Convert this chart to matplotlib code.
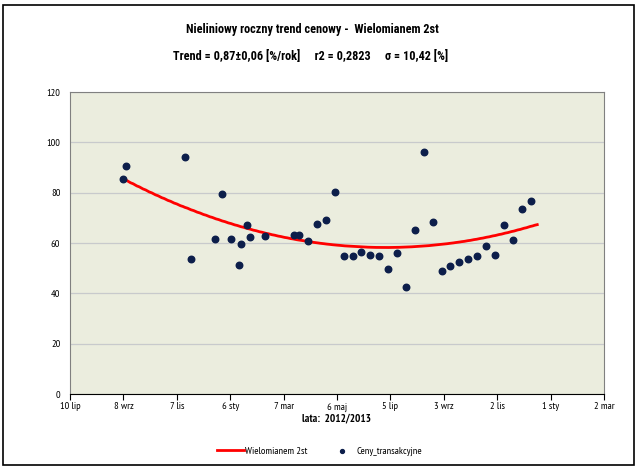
import numpy as np
import matplotlib
matplotlib.use("Agg")
import matplotlib.pyplot as plt
import datetime as dt

plt.rcParams['font.family'] = ['PT Sans Narrow', 'DejaVu Sans']

start = dt.date(2012, 7, 10)
# days after 10 Jul 2012 for each transaction
days = [59, 63, 129, 136, 163, 171, 181, 190, 192, 199, 202, 219, 252, 257,
        267, 278, 288, 298, 308, 318, 327, 337, 347, 357, 367, 378, 388, 398,
        408, 418, 427, 437, 447, 457, 467, 478, 488, 498, 508, 518]
prices = [85.4, 90.6, 94.2, 53.6, 61.7, 79.5, 61.7, 51.3, 59.6, 67.1, 62.4,
          62.8, 63.2, 63.2, 60.8, 67.5, 69.1, 80.3, 54.9, 54.9, 56.5, 55.3,
          54.9, 49.7, 56.1, 42.6, 65.2, 96.2, 68.3, 48.9, 50.9, 52.5, 53.7,
          54.9, 58.9, 55.3, 67.1, 61.2, 73.6, 76.8]
# trend line: (day, value)
trend_days = [59.5, 150, 250, 354, 450, 525]
trend_vals = [85.4, 71.6, 62.3, 57.7, 60.6, 67.7]

tick_labels = ['10 lip', '8 wrz', '7 lis', '6 sty', '7 mar', '6 maj',
               '5 lip', '3 wrz', '2 lis', '1 sty', '2 mar']

title1 = 'Nieliniowy roczny trend cenowy -  Wielomianem 2st'
title2 = 'Trend = 0,87±0,06 [%/rok]     r2 = 0,2823     σ = 10,42 [%]'

dates = [start + dt.timedelta(days=d) for d in days]
coef = np.polyfit(trend_days, trend_vals, 2)
td = np.linspace(trend_days[0], trend_days[-1], 200)
tv = np.polyval(coef, td)
tdates = [start + dt.timedelta(days=float(d)) for d in td]

fig = plt.figure(figsize=(6.41, 4.71), dpi=100)
fig.patches.append(plt.Rectangle((3/641, 1-465/471), 631/641, 460/471,
                                 transform=fig.transFigure, fill=False,
                                 edgecolor='black', linewidth=1.2))
ax = fig.add_axes([70/641, 1-394/471, 534/641, 302/471])
ax.set_facecolor('#EBEDDE')

ax.plot(tdates, tv, color='#FF0000', linewidth=2, label='Wielomianem 2st', zorder=3)
ax.scatter(dates, prices, s=22, color='#0C1E4A', zorder=4, label='Ceny_transakcyjne')

ax.set_ylim(0, 120)
ax.set_yticks(range(0, 121, 20))
ax.set_xlim(start, start + dt.timedelta(days=600))
ticks = [start + dt.timedelta(days=60 * i) for i in range(11)]
ax.set_xticks(ticks)
ax.set_xticklabels(tick_labels)
ax.grid(axis='y', color='#C8CACC', linewidth=0.9)
ax.set_axisbelow(True)
for s in ['top', 'right', 'left']:
    ax.spines[s].set_color('#808080')
ax.spines['bottom'].set_color('black')
ax.tick_params(axis='y', length=0, labelsize=7.5, pad=7)
ax.tick_params(axis='x', length=4, direction='out', labelsize=7.5, pad=2)

ax.set_xlabel('lata:  2012/2013', fontsize=8, fontweight='bold', labelpad=1.5)

tfam = ['Roboto Condensed', 'DejaVu Sans']
fig.text(312/641, 1-30/471, title1, ha='center', va='center', fontsize=8.8,
         fontweight='bold', family=tfam)
fig.text(311/641, 1-57/471, title2, ha='center', va='center', fontsize=8.8,
         fontweight='bold', family=tfam)

leg = fig.legend(loc='center', bbox_to_anchor=(0.498, 1-451/471), ncol=2, frameon=False,
                 fontsize=7.5, handlelength=2.6, handletextpad=0.1, columnspacing=2.0,
                 markerscale=0.6)

fig.savefig('out.png', dpi=100)
